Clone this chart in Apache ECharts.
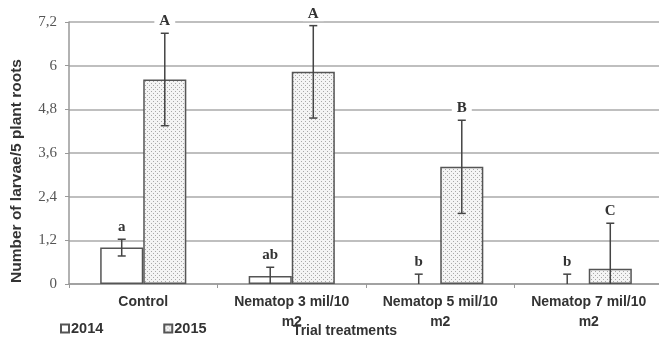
<!DOCTYPE html>
<html>
<head>
<meta charset="utf-8">
<script src="https://cdn.jsdelivr.net/npm/echarts@6/dist/echarts.min.js"></script>
<style>
html, body { margin: 0; padding: 0; background: #fff; }
#chart { width: 659px; height: 338px; }
</style>
</head>
<body>
<div id="chart"></div>
<script>
var categories = ['Control', 'Nematop 3 mil/10\nm2', 'Nematop 5 mil/10\nm2', 'Nematop 7 mil/10\nm2'];
var mean2014 = [1.0, 0.22, 0, 0];
var err2014 = [0.23, 0.24, 0.27, 0.27];
var mean2015 = [5.62, 5.83, 3.22, 0.42];
var err2015 = [1.27, 1.27, 1.28, 1.25];
var letters2014 = ['a', 'ab', 'b', 'b'];
var letters2015 = ['A', 'A', 'B', 'C'];
var yTicks = [0, 1.2, 2.4, 3.6, 4.8, 6, 7.2];

// dotted fill for the 2015 bars
var dots = document.createElement('canvas');
dots.width = 4; dots.height = 4;
var dctx = dots.getContext('2d');
dctx.fillStyle = '#f4f4f4';
dctx.fillRect(0, 0, 4, 4);
dctx.fillStyle = '#a8a8a8';
dctx.fillRect(1, 1, 1, 1);
dctx.fillRect(3, 3, 1, 1);

var BAR_RATIO = 0.29;

function errRenderer(sign, errs, letters) {
	return function(params, api) {
		var i = api.value(0);
		var m = api.value(1);
		var e = errs[i];
		var bw = api.size([1, 0])[0] * BAR_RATIO;
		var top = api.coord([i, m + e]);
		var low = api.coord([i, Math.max(0, m - e)]);
		var x = top[0] + sign * bw / 2;
		var st = { stroke: '#444', lineWidth: 1.5 };
		var kids = [
			{ type: 'line', shape: { x1: x, y1: top[1], x2: x, y2: low[1] }, style: st },
			{ type: 'line', shape: { x1: x - 4, y1: top[1], x2: x + 4, y2: top[1] }, style: st }
		];
		if (m - e > 0) {
			kids.push({ type: 'line', shape: { x1: x - 4, y1: low[1], x2: x + 4, y2: low[1] }, style: st });
		}
		kids.push({
			type: 'text',
			x: x, y: top[1] - 12,
			style: {
				text: letters[i],
				align: 'center', verticalAlign: 'middle',
				font: 'bold 15px "Liberation Serif", serif',
				fill: '#333',
				backgroundColor: '#fff',
				padding: [0, 5]
			}
		});
		return { type: 'group', children: kids };
	};
}

function pairs(arr) {
	return arr.map(function(v, i) { return [i, v]; });
}

// zero bars are not drawn in the original
function barData(arr) {
	return arr.map(function(v) {
		return v > 0 ? v : { value: v, itemStyle: { borderWidth: 0 } };
	});
}

var chart = echarts.init(document.getElementById('chart'));
chart.setOption({
	animation: false,
	grid: { left: 69, top: 22, width: 594, height: 262, containLabel: false, outerBoundsMode: 'none' },
	legend: {
		left: 55, top: 316,
		itemWidth: 8, itemHeight: 8, itemGap: 60,
		icon: 'rect',
		textStyle: { fontFamily: 'Liberation Sans', fontWeight: 'bold', fontSize: 14.5, color: '#333', padding: [0, 0, 0, -3] },
		data: ['2014', '2015']
	},
	xAxis: {
		type: 'category',
		data: categories,
		name: 'Trial treatments',
		nameLocation: 'middle',
		nameGap: 40,
		nameMoveOverlap: false,
		nameTextStyle: { fontFamily: 'Liberation Sans', fontWeight: 'bold', fontSize: 14, color: '#333', padding: [0, 42, 0, 0] },
		axisLine: { lineStyle: { color: '#999', width: 1.5 } },
		axisTick: { show: true, length: 4, lineStyle: { color: '#999' } },
		axisLabel: { fontFamily: 'Liberation Sans', fontWeight: 'bold', fontSize: 14, color: '#333', margin: 8, lineHeight: 20, interval: 0 }
	},
	yAxis: {
		type: 'value',
		min: 0, max: 7.2, interval: 1.2,
		name: 'Number of larvae/5 plant roots',
		nameLocation: 'middle',
		nameGap: 44,
		nameMoveOverlap: false,
		nameTextStyle: { fontFamily: 'Liberation Sans', fontWeight: 'bold', fontSize: 15.5, color: '#333', padding: [0, 36, 0, 0] },
		axisLine: { show: true, lineStyle: { color: '#999', width: 1.5 } },
		axisTick: { show: true, length: 4, lineStyle: { color: '#999' } },
		axisLabel: {
			fontFamily: 'Liberation Serif', fontSize: 15, color: '#555', margin: 12,
			formatter: function(v) {
				var t = yTicks.reduce(function(a, b) { return Math.abs(b - v) < Math.abs(a - v) ? b : a; });
				return String(t).replace('.', ',');
			}
		},
		splitLine: { lineStyle: { color: '#aaa', width: 1.5 } }
	},
	series: [
		{
			name: '2014', type: 'bar', data: barData(mean2014),
			barWidth: (BAR_RATIO * 100) + '%', barGap: '0%',
			itemStyle: { color: '#fff', borderColor: '#555', borderWidth: 1.5 }
		},
		{
			name: '2015', type: 'bar', data: barData(mean2015),
			barWidth: (BAR_RATIO * 100) + '%',
			itemStyle: { color: { image: dots, repeat: 'repeat' }, borderColor: '#555', borderWidth: 1.5 }
		},
		{
			type: 'custom', data: pairs(mean2014), z: 5,
			renderItem: errRenderer(-1, err2014, letters2014)
		},
		{
			type: 'custom', data: pairs(mean2015), z: 5,
			renderItem: errRenderer(1, err2015, letters2015)
		}
	]
});
</script>
</body>
</html>
